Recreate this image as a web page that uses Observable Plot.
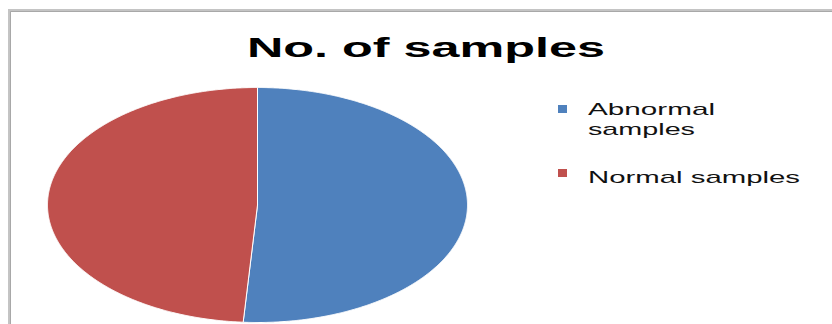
<!DOCTYPE html>
<html><head><meta charset="utf-8">
<script src="https://cdn.jsdelivr.net/npm/d3@7"></script>
<script src="https://cdn.jsdelivr.net/npm/@observablehq/plot@0.6"></script>
<style>body{margin:0;background:#fff;overflow:hidden}</style>
</head><body><div id="chart"></div>
<script>
const categories = ["Abnormal samples", "Normal samples"];
const values = [47, 45];
const colors = ["#4F81BD", "#C0504D"];
const titleText = "No. of samples";
const legendLines = [["Abnormal", "samples"], ["Normal samples"]];

const arcs = d3.pie().sort(null).value((d, i) => values[i])(categories);
const pts = [];
arcs.forEach((a, i) => {
  const cat = categories[i];
  pts.push({cat, x: 0, y: 0});
  const n = Math.max(2, Math.ceil((a.endAngle - a.startAngle) / 0.005));
  for (let k = 0; k <= n; k++) {
    const t = a.startAngle + (a.endAngle - a.startAngle) * k / n;
    pts.push({cat, x: Math.sin(t), y: Math.cos(t)});
  }
  pts.push({cat, x: 0, y: 0});
});

const plot = Plot.plot({
  width: 832, height: 324, margin: 0,
  style: {background: "white"},
  x: {domain: [-1, 1], range: [47, 467], axis: null},
  y: {domain: [-1, 1], range: [322, 87], axis: null},
  color: {domain: categories, range: colors},
  marks: [
    Plot.line(pts, {x: "x", y: "y", z: "cat", fill: "cat", stroke: "white", strokeWidth: 1, curve: "linear"})
  ]
});
document.getElementById("chart").appendChild(plot);

const svg = d3.select(plot);
const color = plot.scale("color");
// chart border
svg.append("path").attr("d", "M9.5,324V10.5H832").attr("fill", "none").attr("stroke", "#c4c4c4").attr("stroke-width", 3);
svg.append("path").attr("d", "M10.5,324V11.5H832").attr("fill", "none").attr("stroke", "#a8a8a8").attr("stroke-width", 1);
// title
svg.append("text").text(titleText)
  .attr("x", 247).attr("y", 57).attr("text-anchor", "start")
  .attr("font-family", "Liberation Sans, Arial, sans-serif").attr("font-weight", "bold").attr("font-size", 28)
  .attr("fill", "#000")
  .attr("textLength", 358).attr("lengthAdjust", "spacingAndGlyphs");
// legend
const legendRows = [
  {sq: 105, lines: [{t: legendLines[0][0], y: 115, w: 127}, {t: legendLines[0][1], y: 135, w: 107}]},
  {sq: 169, lines: [{t: legendLines[1][0], y: 182.5, w: 212}]}
];
legendRows.forEach((r, i) => {
  svg.append("rect").attr("x", 558).attr("y", r.sq).attr("width", 9).attr("height", 8)
    .attr("fill", color.apply(categories[i]));
  r.lines.forEach(l => {
    svg.append("text").text(l.t).attr("x", 588).attr("y", l.y).attr("text-anchor", "start")
      .attr("font-family", "Liberation Sans, Arial, sans-serif").attr("font-size", 17)
      .attr("fill", "#111")
      .attr("textLength", l.w).attr("lengthAdjust", "spacingAndGlyphs");
  });
});
</script>
</body></html>
